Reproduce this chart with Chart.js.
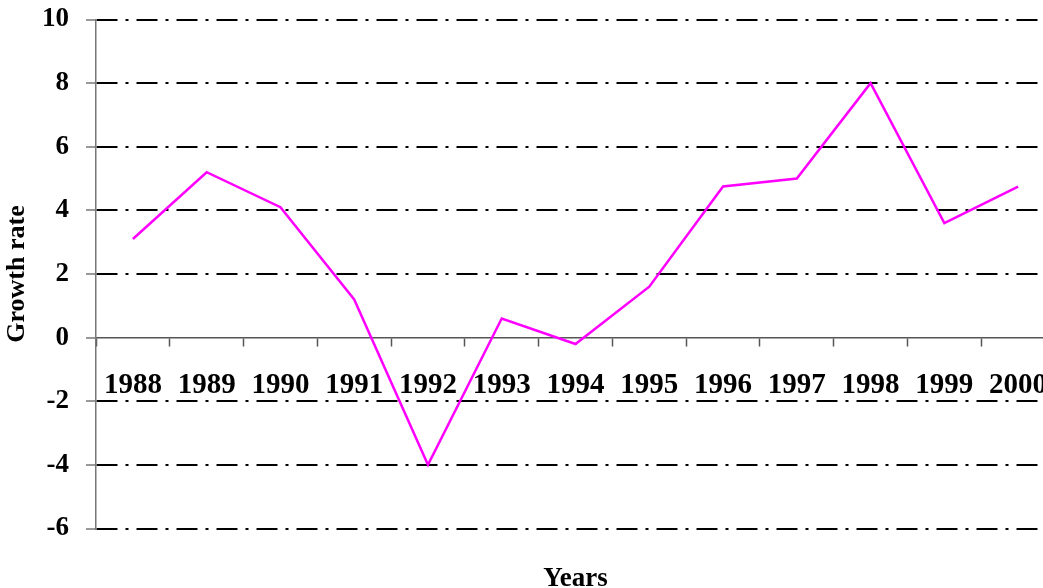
<!DOCTYPE html>
<html>
<head>
<meta charset="utf-8">
<script src="https://cdn.jsdelivr.net/npm/chart.js@4/dist/chart.umd.min.js"></script>
<style>
  html, body { margin: 0; padding: 0; background: #fff; overflow: hidden; }
  #wrap { width: 1055px; height: 588px; }
</style>
</head>
<body>
<div id="wrap"><canvas id="growthChart" width="1055" height="588"></canvas></div>
<script>
// Data
var years = ['1988', '1989', '1990', '1991', '1992', '1993', '1994', '1995', '1996', '1997', '1998', '1999', '2000'];
var growthRate = [3.1, 5.2, 4.1, 1.2, -4.0, 0.6, -0.2, 1.6, 4.75, 5.0, 8.0, 3.6, 4.75];
var yMin = -6;
var yMax = 10;
var yStep = 2;

var serif = "'Liberation Serif', 'Times New Roman', serif";

var ctx = document.getElementById('growthChart').getContext('2d');

var myChart = new Chart(ctx, {
    type: 'line',
    data: {
        labels: years,
        datasets: [{
            label: 'Growth rate',
            data: growthRate,
            borderColor: '#ff00ff',
            borderWidth: 2.5,
            pointRadius: 0,
            tension: 0,
            fill: false,
            xAxisID: 'x',
            yAxisID: 'y'
        }]
    },
    options: {
        responsive: false,
        animation: false,
        layout: { padding: { top: 19.5, left: 0, right: 0, bottom: 0 } },
        plugins: {
            legend: { display: false },
            tooltip: { enabled: false }
        },
        scales: {
            // axis that sits on the zero line and carries the year labels
            x: {
                type: 'category',
                position: { y: 0 },
                offset: true,
                grid: {
                    drawOnChartArea: false,
                    drawTicks: true,
                    offset: true,
                    tickLength: 8,
                    tickColor: '#555',
                    tickWidth: 1.5
                },
                border: { display: true, color: '#555', width: 1.5 },
                ticks: {
                    color: '#000',
                    font: { family: serif, size: 29, weight: 'bold' },
                    padding: 22,
                    maxRotation: 0,
                    autoSkip: false
                },
                afterFit: function (scale) {
                    scale.height = 0;
                    scale.paddingLeft = 0;
                    scale.paddingRight = 0;
                }
            },
            // bottom axis only used for the "Years" title
            xb: {
                type: 'category',
                position: 'bottom',
                offset: true,
                grid: { display: false },
                border: { display: false },
                ticks: { display: false },
                title: {
                    display: true,
                    text: 'Years',
                    color: '#000',
                    font: { family: serif, size: 27, weight: 'bold', lineHeight: 0.65 },
                    padding: { top: 0, bottom: 0 }
                },
                afterFit: function (scale) {
                    scale.height = 59.5;
                    scale.paddingLeft = 0;
                    scale.paddingRight = 0;
                }
            },
            y: {
                position: 'left',
                min: yMin,
                max: yMax,
                ticks: {
                    stepSize: yStep,
                    color: '#000',
                    font: { family: serif, size: 27, weight: 'bold' },
                    padding: 17
                },
                grid: {
                    color: function (c) { return c.tick && c.tick.value === 0 ? 'rgba(0,0,0,0)' : '#000'; },
                    lineWidth: 2,
                    tickLength: 10,
                    tickColor: '#777',
                    tickWidth: 1.5
                },
                border: { display: true, color: '#777', width: 1.5, dash: [21, 8, 3, 8] },
                title: {
                    display: true,
                    text: 'Growth rate',
                    color: '#000',
                    font: { family: serif, size: 26, weight: 'bold' },
                    padding: { top: 2, bottom: 0 }
                },
                afterFit: function (scale) {
                    scale.width = 96;
                    scale.paddingTop = 0;
                    scale.paddingBottom = 0;
                }
            }
        }
    }
});
</script>
</body>
</html>
